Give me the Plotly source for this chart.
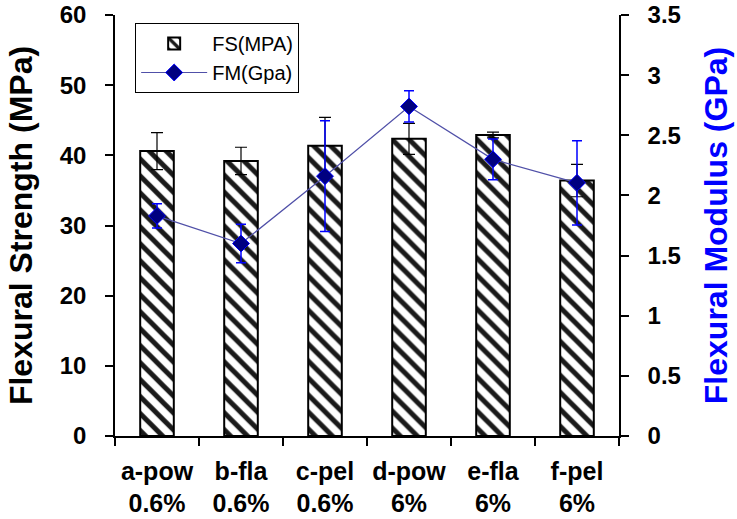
import plotly.graph_objects as go

categories = ["a-pow<br>0.6%", "b-fla<br>0.6%", "c-pel<br>0.6%", "d-pow<br>6%", "e-fla<br>6%", "f-pel<br>6%"]
fs_values = [40.6, 39.2, 41.35, 42.35, 42.9, 36.4]
fs_errors = [2.65, 1.95, 4.05, 2.2, 0.4, 2.3]
fm_values = [1.83, 1.60, 2.16, 2.74, 2.30, 2.105]
fm_errors = [0.10, 0.16, 0.46, 0.13, 0.17, 0.35]

FONT = "Liberation Sans, Arial, sans-serif"

fig = go.Figure()
fig.add_trace(go.Bar(
    x=categories, y=fs_values, name="FS(MPA)", width=0.4,
    marker=dict(color="white", line=dict(color="black", width=2),
                pattern=dict(shape="\\", fgcolor="#1a1a1a", bgcolor="white", fgopacity=1,
                             size=12, solidity=0.42)),
    error_y=dict(type="data", array=fs_errors, color="black", thickness=1.2, width=6),
    yaxis="y",
))
fig.add_trace(go.Scatter(
    x=categories, y=fm_values, name="FM(Gpa)", mode="lines+markers",
    line=dict(color="#5050a8", width=1.2),
    marker=dict(symbol="diamond", size=13, color="#000080", line=dict(color="#0000ff", width=1)),
    error_y=dict(type="data", array=fm_errors, color="#0000ff", thickness=1.5, width=5),
    yaxis="y2",
))

fig.update_layout(
    width=737, height=519,
    margin=dict(l=115, r=118, t=15, b=83),
    paper_bgcolor="white", plot_bgcolor="white",
    font=dict(family=FONT, color="black"),
    showlegend=True,
    legend=dict(x=0.04, y=0.981, xanchor="left", yanchor="top",
                bordercolor="black", borderwidth=1, bgcolor="white",
                font=dict(size=20, family=FONT), itemwidth=66),
    xaxis=dict(type="category", range=[-0.5, 5.5], showline=True, linecolor="black", linewidth=1.5,
               ticks="outside", tickson="boundaries", ticklen=8, tickcolor="black", tickwidth=1.5,
               ticklabelstandoff=12, automargin=False,
               tickfont=dict(size=25, family=FONT, weight="bold"), showgrid=False, zeroline=False),
    xaxis2=dict(overlaying="x", anchor="y", range=[-0.5, 5.5], tick0=-0.5, dtick=1,
                ticks="inside", ticklen=6, tickcolor="black", tickwidth=1.5, automargin=False,
                showticklabels=False, showgrid=False, zeroline=False, showline=False),
    yaxis=dict(range=[0, 60], dtick=10, showline=True, linecolor="black", linewidth=1.5,
               ticks="outside", ticklen=8, tickcolor="black", tickwidth=1.5, automargin=False,
               tickfont=dict(size=24, family=FONT, weight="bold"), showgrid=False, zeroline=False,
               ticklabelstandoff=14,
               title=dict(text="Flexural Strength (MPa)", font=dict(size=32, family=FONT, weight="bold", color="black"), standoff=18)),
    yaxis3=dict(overlaying="y", side="left", anchor="x", range=[0, 60], dtick=10,
                ticks="inside", ticklen=7, tickcolor="black", tickwidth=1.5, automargin=False,
                showticklabels=False, showgrid=False, zeroline=False, showline=False),
    yaxis2=dict(overlaying="y", side="right", anchor="x", range=[0, 3.5], dtick=0.5, showline=True,
                linecolor="black", linewidth=1.5, automargin=False,
                ticks="outside", ticklen=8, tickcolor="black", tickwidth=1.5,
                tickfont=dict(size=24, family=FONT, weight="bold"), showgrid=False, zeroline=False,
                ticklabelstandoff=14,
                title=dict(text="Flexural Modulus (GPa)", font=dict(size=32, family=FONT, weight="bold", color="#0000ff"), standoff=25)),
    yaxis4=dict(overlaying="y", side="right", anchor="x", range=[0, 3.5], dtick=0.5,
                ticks="inside", ticklen=7, tickcolor="black", tickwidth=1.5, automargin=False,
                showticklabels=False, showgrid=False, zeroline=False, showline=False),
    bargap=0.6,
)

fig.write_html("out.html")
